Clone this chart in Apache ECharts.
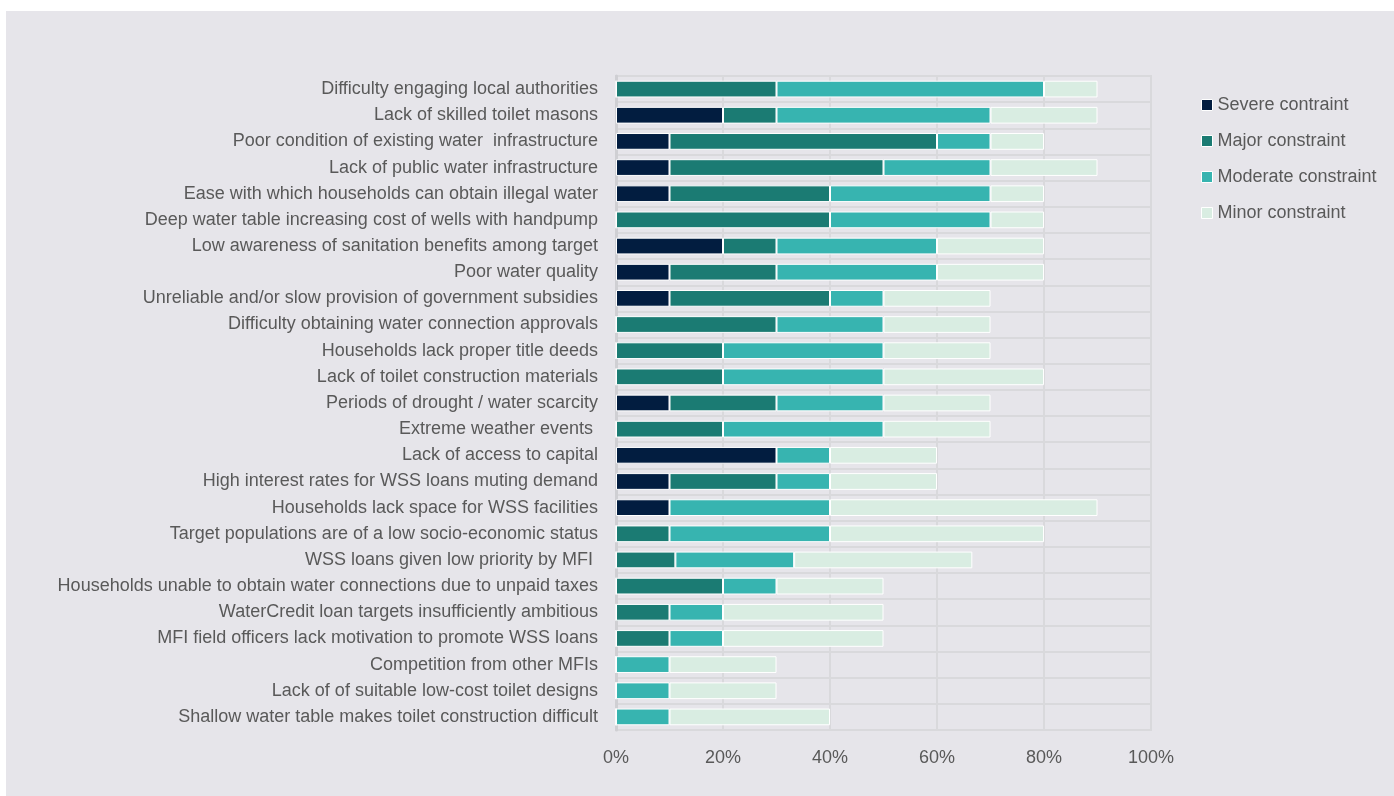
<!DOCTYPE html>
<html>
<head>
<meta charset="utf-8">
<script src="https://cdn.jsdelivr.net/npm/echarts@6/dist/echarts.min.js"></script>
<style>
html,body{margin:0;padding:0;background:#ffffff;width:1394px;height:796px;overflow:hidden;}
#chart{position:absolute;left:6px;top:11px;width:1388px;height:785px;}
</style>
</head>
<body>
<div id="chart"></div>
<script>
var categories = [
  "Difficulty engaging local authorities",
  "Lack of skilled toilet masons",
  "Poor condition of existing water  infrastructure",
  "Lack of public water infrastructure",
  "Ease with which households can obtain illegal water",
  "Deep water table increasing cost of wells with handpump",
  "Low awareness of sanitation benefits among target",
  "Poor water quality",
  "Unreliable and/or slow provision of government subsidies",
  "Difficulty obtaining water connection approvals",
  "Households lack proper title deeds",
  "Lack of toilet construction materials",
  "Periods of drought / water scarcity",
  "Extreme weather events ",
  "Lack of access to capital",
  "High interest rates for WSS loans muting demand",
  "Households lack space for WSS facilities",
  "Target populations are of a low socio-economic status",
  "WSS loans given low priority by MFI ",
  "Households unable to obtain water connections due to unpaid taxes",
  "WaterCredit loan targets insufficiently ambitious",
  "MFI field officers lack motivation to promote WSS loans",
  "Competition from other MFIs",
  "Lack of of suitable low-cost toilet designs",
  "Shallow water table makes toilet construction difficult"
];
var severe   = [0,20,10,10,10,0,20,10,10,0,0,0,10,0,30,10,10,0,0,0,0,0,0,0,0];
var major    = [30,10,50,40,30,40,10,20,30,30,20,20,20,20,0,20,0,10,11.1,20,10,10,0,0,0];
var moderate = [50,40,10,20,30,30,30,30,10,20,30,30,20,30,10,10,30,30,22.2,10,10,10,10,10,10];
var minor    = [10,20,10,20,10,10,20,20,20,20,20,30,20,20,20,20,50,40,33.3,20,30,30,20,20,30];
var seriesNames = ["Severe contraint","Major constraint","Moderate constraint","Minor constraint"];
var colors = ["#021d40","#1b7b73","#37b4b0","#d9ede2"];
var xTicks = [0,20,40,60,80,100];

var font = "'Liberation Sans', Arial, sans-serif";
var textColor = "#595959";
var dataSets = [severe, major, moderate, minor];

var chart = echarts.init(document.getElementById('chart'), null, {renderer:'canvas'});
var option = {
  backgroundColor: '#e6e5ea',
  animation: false,
  textStyle: {fontFamily: font},
  color: colors,
  legend: {
    orient: 'vertical',
    left: 1190,
    top: 80,
    itemWidth: 11,
    itemHeight: 11,
    itemGap: 18,
    icon: 'rect',
    itemStyle: {borderColor: '#ffffff', borderWidth: 1},
    textStyle: {color: textColor, fontSize: 18, fontFamily: font},
    data: seriesNames
  },
  grid: {
    left: 610, top: 65, right: 243, bottom: 66,
    show: true, borderColor: '#d9d9dc', borderWidth: 2,
    containLabel: false
  },
  xAxis: {
    type: 'value',
    min: xTicks[0], max: xTicks[xTicks.length-1], interval: 20,
    axisLine: {show: false},
    axisTick: {show: false},
    splitLine: {show: true, lineStyle: {color: '#d9d9dc', width: 2}},
    axisLabel: {color: textColor, fontSize: 18, margin: 19, formatter: function(v){return v + '%';}}
  },
  yAxis: {
    type: 'category',
    inverse: true,
    data: categories,
    axisLine: {show: true, lineStyle: {color: '#cfcfd3', width: 3}},
    axisTick: {show: false},
    splitLine: {show: true, lineStyle: {color: '#d9d9dc', width: 2}},
    axisLabel: {color: textColor, fontSize: 18, margin: 18}
  },
  series: seriesNames.map(function(name, i){
    return {
      name: name,
      type: 'bar',
      stack: 'total',
      barWidth: '64%',
      itemStyle: {color: colors[i], borderColor: '#ffffff', borderWidth: 1},
      emphasis: {disabled: true},
      data: dataSets[i]
    };
  })
};
chart.setOption(option);
</script>
</body>
</html>
